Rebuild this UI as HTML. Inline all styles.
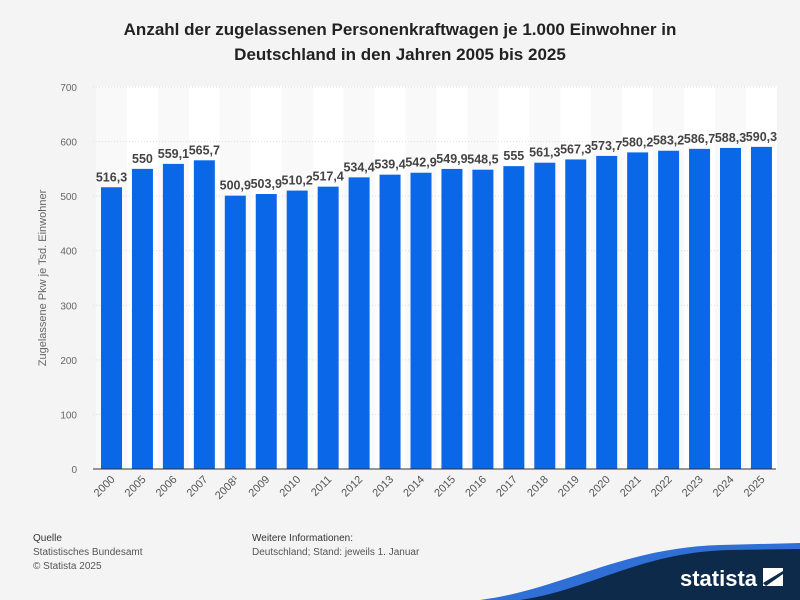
<!DOCTYPE html>
<html><head><meta charset="utf-8"><style>
body{margin:0;width:800px;height:600px;background:#f4f4f4;font-family:"Liberation Sans",sans-serif;overflow:hidden;position:relative}
.t{position:absolute;left:0;width:800px;text-align:center;font-weight:bold;font-size:17px;color:#222;line-height:25px;top:17px}
.f{position:absolute;font-size:10px;color:#555;line-height:14px}
</style></head><body>
<div class="t">Anzahl der zugelassenen Personenkraftwagen je 1.000 Einwohner in<br>Deutschland in den Jahren 2005 bis 2025</div>
<svg width="800" height="600" style="position:absolute;left:0;top:0">
<g id="bands"></g><g id="grid"></g><g id="bars"></g>
<line x1="93" y1="469" x2="776" y2="469" stroke="#333" stroke-width="1"/>
<text transform="translate(46,278) rotate(-90)" text-anchor="middle" font-size="11" fill="#666">Zugelassene Pkw je Tsd. Einwohner</text>
<path d="M480 600 C560 590 620 548 720 545 L800 543 L800 600 Z" fill="#2f6fd6"/>
<path d="M520 600 C590 590 640 552 730 550 L800 549 L800 600 Z" fill="#0d2a4a"/>
<text x="680" y="586" font-size="22" font-weight="bold" fill="#fff">statista</text>
<rect x="763" y="568" width="20" height="18" fill="#fff"/>
<path d="M763 583 L783 571 L783 574 L766 586 Z" fill="#0d2a4a"/>
</svg>
<div class="f" style="left:33px;top:532px;color:#333">Quelle</div>
<div class="f" style="left:33px;top:546px">Statistisches Bundesamt</div>
<div class="f" style="left:33px;top:560px">© Statista 2025</div>
<div class="f" style="left:252px;top:532px;color:#333">Weitere Informationen:</div>
<div class="f" style="left:252px;top:546px">Deutschland; Stand: jeweils 1. Januar</div>
<script>
const ns="http://www.w3.org/2000/svg";
function el(p,t,a,txt){const e=document.createElementNS(ns,t);for(const k in a)e.setAttribute(k,a[k]);if(txt!=null)e.textContent=txt;document.getElementById(p).appendChild(e);}
const yrs=["2000","2005","2006","2007","2008¹","2009","2010","2011","2012","2013","2014","2015","2016","2017","2018","2019","2020","2021","2022","2023","2024","2025"];
const v=[516.3,550,559.1,565.7,500.9,503.9,510.2,517.4,534.4,539.4,542.9,549.9,548.5,555,561.3,567.3,573.7,580.2,583.2,586.7,588.3,590.3];
const Y=u=>469-u*0.5457;
for(let i=0;i<22;i++){const c=111.5+i*30.95;
 el("bands","rect",{x:c-15.5,y:86,width:31,height:383,fill:i%2?"#ffffff":"#f9f9f9"});
 el("bars","rect",{x:c-10.5,y:Y(v[i]),width:21,height:469-Y(v[i]),fill:"#0a67e8"});
 el("bars","text",{x:c,y:Y(v[i])-6,"text-anchor":"middle","font-size":"12.5","font-weight":"bold",fill:"#444"},String(v[i]).replace(".",","));
 el("bars","text",{transform:`translate(${c+4},480) rotate(-45)`,"text-anchor":"end","font-size":"11",fill:"#555"},yrs[i]);}
for(let k=0;k<=7;k++){const y=Y(k*100);
 if(k>0)el("grid","line",{x1:93,x2:776,y1:y,y2:y,stroke:"#ddd","stroke-dasharray":"1,2"});
 el("grid","text",{x:77,y:y+4,"text-anchor":"end","font-size":"10",fill:"#666"},k*100);}
</script>
</body></html>
